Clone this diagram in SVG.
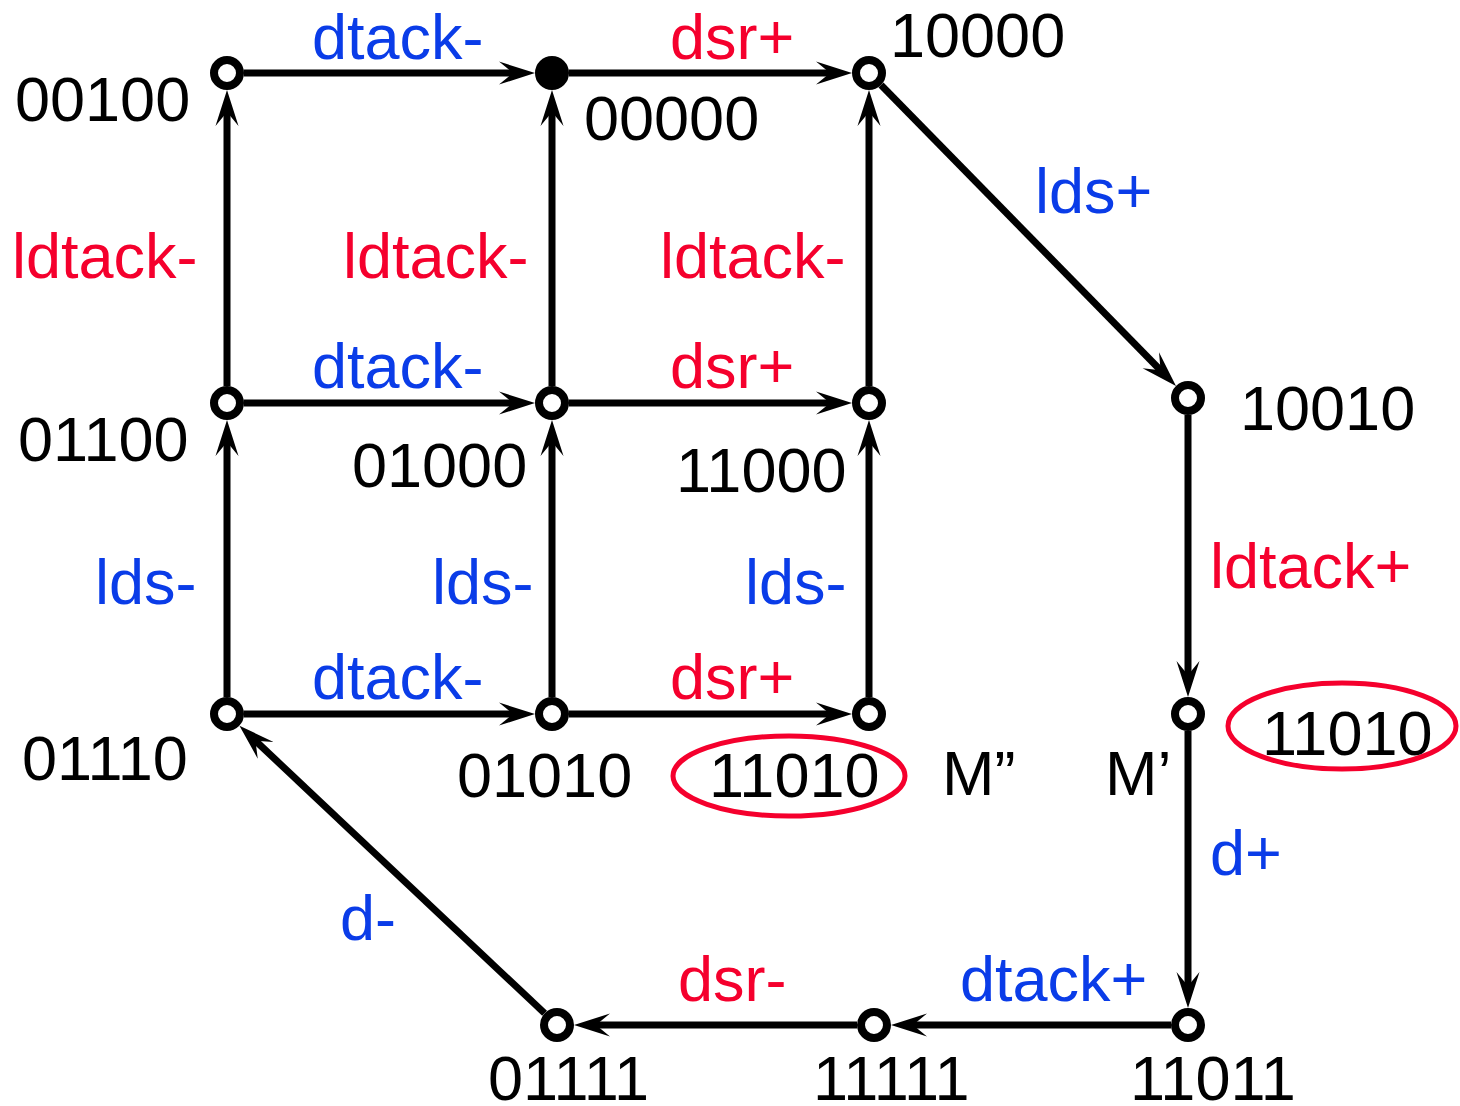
<svg xmlns="http://www.w3.org/2000/svg" width="1460" height="1106" viewBox="0 0 1460 1106">
  <style>
    text { font-family: "Liberation Sans", Arial, sans-serif; font-size: 63px; }
    .st { fill: #000; }
    .ev-b { fill: #0a3ce8; }
    .ev-r { fill: #f5002d; }
    .node { fill: #fff; stroke: #000; stroke-width: 8; }
    .init { fill: #000; stroke: #000; stroke-width: 8; }
    .edge { stroke: #000; stroke-width: 7; fill: none; marker-end: url(#arrow); }
    .ring { fill: none; stroke: #f5002d; stroke-width: 5; }
  </style>
  <defs>
    <marker id="arrow" markerUnits="userSpaceOnUse" orient="auto" viewBox="-38 -13 40 26" markerWidth="40" markerHeight="26" refX="-20" refY="0">
      <path d="M0,0 L-36,-11.5 L-22,0 L-36,11.5 Z" fill="#000"/>
    </marker>
  </defs>

  <!-- transitions -->
  <g id="edges">
    <line class="edge" x1="244" y1="73" x2="515" y2="73"/>
    <line class="edge" x1="569" y1="73" x2="832" y2="73"/>
    <line class="edge" x1="244" y1="403" x2="515" y2="403"/>
    <line class="edge" x1="569" y1="403" x2="832" y2="403"/>
    <line class="edge" x1="244" y1="714" x2="515" y2="714"/>
    <line class="edge" x1="569" y1="714" x2="832" y2="714"/>
    <line class="edge" x1="227" y1="386" x2="227" y2="110"/>
    <line class="edge" x1="227" y1="697" x2="227" y2="440"/>
    <line class="edge" x1="552" y1="386" x2="552" y2="110"/>
    <line class="edge" x1="552" y1="697" x2="552" y2="440"/>
    <line class="edge" x1="869" y1="386" x2="869" y2="110"/>
    <line class="edge" x1="869" y1="697" x2="869" y2="440"/>
    <line class="edge" x1="881" y1="85" x2="1162" y2="371.7"/>
    <line class="edge" x1="1188" y1="415" x2="1188" y2="677"/>
    <line class="edge" x1="1188" y1="731" x2="1188" y2="988"/>
    <line class="edge" x1="1171" y1="1025" x2="911" y2="1025"/>
    <line class="edge" x1="857" y1="1025" x2="594" y2="1025"/>
    <line class="edge" x1="544.6" y1="1013.3" x2="254" y2="739.4"/>
  </g>

  <!-- transition labels -->
  <g id="edge-labels">
    <text class="ev-b" x="312" y="59">dtack-</text>
    <text class="ev-r" x="670" y="59">dsr+</text>
    <text class="ev-b" x="312" y="388">dtack-</text>
    <text class="ev-r" x="670" y="388">dsr+</text>
    <text class="ev-b" x="312" y="699">dtack-</text>
    <text class="ev-r" x="670" y="699">dsr+</text>
    <text class="ev-r" x="12" y="278">ldtack-</text>
    <text class="ev-r" x="343" y="278">ldtack-</text>
    <text class="ev-r" x="660" y="278">ldtack-</text>
    <text class="ev-b" x="95" y="604">lds-</text>
    <text class="ev-b" x="432" y="604">lds-</text>
    <text class="ev-b" x="745" y="604">lds-</text>
    <text class="ev-b" x="1035" y="213">lds+</text>
    <text class="ev-r" x="1210" y="588">ldtack+</text>
    <text class="ev-b" x="1210" y="875">d+</text>
    <text class="ev-b" x="960" y="1001">dtack+</text>
    <text class="ev-r" x="678" y="1001">dsr-</text>
    <text class="ev-b" x="340" y="940">d-</text>
  </g>

  <!-- states -->
  <g id="s00100"><circle class="node" cx="227" cy="73" r="13"/><text class="st" x="15" y="121">00100</text></g>
  <g id="s00000"><circle class="init" cx="552" cy="73" r="13"/><text class="st" x="584" y="140">00000</text></g>
  <g id="s10000"><circle class="node" cx="869" cy="73" r="13"/><text class="st" x="890" y="57">10000</text></g>
  <g id="s01100"><circle class="node" cx="227" cy="403" r="13"/><text class="st" x="18" y="461">01100</text></g>
  <g id="s01000"><circle class="node" cx="552" cy="403" r="13"/><text class="st" x="352" y="487">01000</text></g>
  <g id="s11000"><circle class="node" cx="869" cy="403" r="13"/><text class="st" x="676" y="492">11000</text></g>
  <g id="s10010"><circle class="node" cx="1188" cy="398" r="13"/><text class="st" x="1240" y="430">10010</text></g>
  <g id="s01110"><circle class="node" cx="227" cy="714" r="13"/><text class="st" x="22" y="780">01110</text></g>
  <g id="s01010"><circle class="node" cx="552" cy="714" r="13"/><text class="st" x="457" y="797">01010</text></g>
  <g id="s11010b">
    <circle class="node" cx="869" cy="714" r="13"/>
    <ellipse class="ring" cx="789" cy="776" rx="116" ry="40"/>
    <text class="st" x="709" y="797">11010</text>
    <text class="st" x="942" y="795">M”</text>
  </g>
  <g id="s11010a">
    <circle class="node" cx="1188" cy="714" r="13"/>
    <ellipse class="ring" cx="1342" cy="726" rx="114" ry="43"/>
    <text class="st" x="1262" y="755">11010</text>
    <text class="st" x="1105" y="795">M’</text>
  </g>
  <g id="s11011"><circle class="node" cx="1188" cy="1025" r="13"/><text class="st" x="1130" y="1100">11011</text></g>
  <g id="s11111"><circle class="node" cx="874" cy="1025" r="13"/><text class="st" x="813" y="1100">11111</text></g>
  <g id="s01111"><circle class="node" cx="557" cy="1025" r="13"/><text class="st" x="488" y="1100">01111</text></g>
</svg>
